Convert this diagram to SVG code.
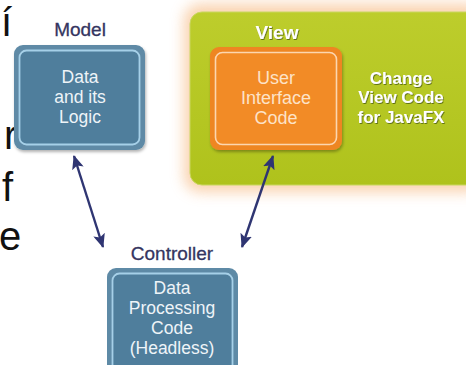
<svg xmlns="http://www.w3.org/2000/svg" width="466" height="365" viewBox="0 0 466 365">
<defs>
<style>
.frag{font-family:"Liberation Sans",Arial,sans-serif;font-size:40px;fill:#111}
.lbl{font-family:"Liberation Sans",Arial,sans-serif;font-size:19px;fill:#34355f;text-anchor:middle;stroke:#34355f;stroke-width:0.3}
.in{font-family:"Liberation Sans",Arial,sans-serif;font-size:17.5px;fill:#eef4f8;text-anchor:middle}
.inO{font-family:"Liberation Sans",Arial,sans-serif;font-size:18px;fill:#fde3c8;text-anchor:middle}
.bw{font-family:"Liberation Sans",Arial,sans-serif;font-weight:bold;fill:#ffffff;text-anchor:middle}
.blueOuter{fill:#5e8aa6}
.blueInner{fill:#4f7e9c;stroke:#a6d0e8;stroke-width:1.8}
.conn{stroke:#2f3572;stroke-width:2.4;fill:none;marker-start:url(#ah);marker-end:url(#ah)}
</style>
<marker id="ah" viewBox="0 0 14 12" refX="13" refY="6" markerWidth="14" markerHeight="12" markerUnits="userSpaceOnUse" orient="auto-start-reverse">
<path d="M0,0 L14,6 L0,12 L3,6 Z" fill="#2f3572"/>
</marker>
<filter id="glow" x="-20%" y="-30%" width="140%" height="160%">
<feGaussianBlur stdDeviation="7"/>
</filter>
<filter id="ts" x="-10%" y="-20%" width="120%" height="140%">
<feDropShadow dx="0.8" dy="1" stdDeviation="0.6" flood-color="#4a5a10" flood-opacity="0.8"/>
</filter>
<filter id="bs" x="-10%" y="-10%" width="125%" height="125%">
<feDropShadow dx="1" dy="2" stdDeviation="1.5" flood-color="#000" flood-opacity="0.3"/>
</filter>
<linearGradient id="green" x1="0" y1="0" x2="0" y2="1">
<stop offset="0" stop-color="#bdcd2c"/>
<stop offset="1" stop-color="#afc21c"/>
</linearGradient>
</defs>

<g id="fragments">
<text class="frag" x="1" y="36">í</text>
<text class="frag" x="4" y="149">r</text>
<text class="frag" x="2" y="201">f</text>
<text class="frag" x="-1" y="250">e</text>
</g>

<g id="model">
<text class="lbl" x="80" y="36">Model</text>
<rect class="blueOuter" x="14" y="45" width="131" height="105" rx="9" filter="url(#bs)"/>
<rect class="blueInner" x="19.5" y="50.5" width="120" height="94" rx="7"/>
<text class="in" x="80" y="83">Data</text>
<text class="in" x="80" y="103">and its</text>
<text class="in" x="80" y="123">Logic</text>
</g>

<g id="view">
<rect x="184" y="4" width="300" height="188" rx="16" fill="#f8bf8c" opacity="0.7" filter="url(#glow)"/>
<rect x="190" y="12" width="290" height="173" rx="12" fill="url(#green)" stroke="#c9d760" stroke-width="1"/>
<text class="bw" x="277" y="39" font-size="19" filter="url(#ts)">View</text>
<g id="ui">
<rect x="210" y="47" width="132" height="103" rx="9" fill="#ee8622" filter="url(#bs)"/>
<rect x="215.5" y="52.5" width="121" height="92" rx="7" fill="#f28b26" stroke="#fcd6b0" stroke-width="1.6"/>
<text class="inO" x="276" y="84">User</text>
<text class="inO" x="276" y="104">Interface</text>
<text class="inO" x="276" y="124">Code</text>
</g>
<text class="bw" x="401" y="84" font-size="17" filter="url(#ts)">Change</text>
<text class="bw" x="401" y="103" font-size="17" filter="url(#ts)">View Code</text>
<text class="bw" x="401" y="123" font-size="17" filter="url(#ts)">for JavaFX</text>
</g>

<g id="controller">
<text class="lbl" x="172" y="260">Controller</text>
<rect class="blueOuter" x="107" y="268" width="131" height="110" rx="9"/>
<rect class="blueInner" x="112.5" y="273.5" width="120" height="100" rx="7"/>
<text class="in" x="172" y="294">Data</text>
<text class="in" x="172" y="314">Processing</text>
<text class="in" x="172" y="334">Code</text>
<text class="in" x="172" y="354">(Headless)</text>
</g>

<g id="connectors">
<line class="conn" x1="74" y1="156" x2="103" y2="247"/>
<line class="conn" x1="273" y1="156" x2="242" y2="247"/>
</g>
</svg>
